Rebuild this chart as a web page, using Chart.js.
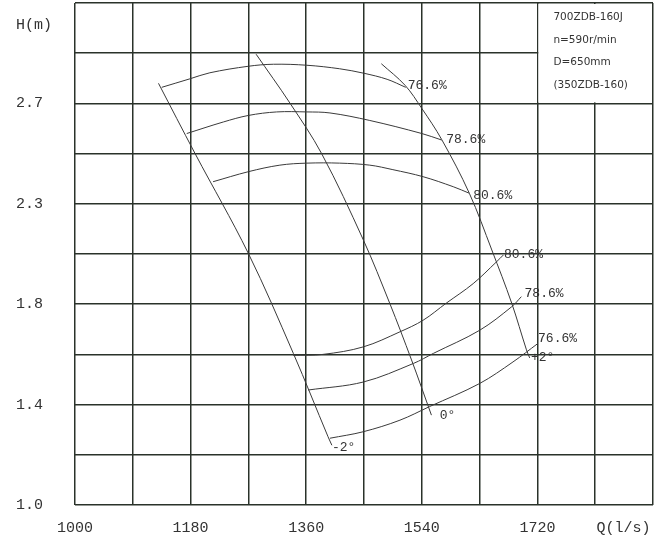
<!DOCTYPE html>
<html><head><meta charset="utf-8">
<script src="https://cdn.jsdelivr.net/npm/chart.js@4"></script>
<style>html,body{margin:0;padding:0;background:#fff}</style>
</head><body>
<canvas id="c" width="671" height="541"></canvas>
<script>
// ---------- data ----------
// Flow axis Q (l/s)
const qMin = 1000, qMax = 1900, qStep = 90;
const qLabelled = [1000, 1180, 1360, 1540, 1720];
const qUnitLabel = 'Q(l/s)';
const qUnitAt = 1854;
// Head axis: 10 grid rows, labelled rows
const hRowsMax = 10;
const hLabelRows = [0, 2, 4, 6, 8];
const hLabels = ['1.0', '1.4', '1.8', '2.3', '2.7'];
const hUnitLabel = 'H(m)';
const hUnitAt = 9.56;

// blade-angle H-Q lines (Q, grid row)
const angleM2Q = [1130, 1187, 1270, 1340, 1394, 1400];
const angleM2H = [8.40, 7.00, 5.01, 3.02, 1.36, 1.19];
const angle0Q  = [1282, 1335, 1384, 1449, 1490, 1524, 1555];
const angle0H  = [8.98, 8.00, 7.00, 5.28, 4.02, 2.89, 1.79];
const angleP2Q = [1477, 1514, 1540, 1571, 1614, 1649, 1680, 1703, 1708];
const angleP2H = [8.79, 8.36, 7.90, 7.28, 6.21, 5.08, 4.02, 3.09, 2.93];

// upper efficiency arcs
const effUp766Q = [1135, 1179, 1210, 1270, 1309, 1361, 1412, 1450, 1486, 1515];
const effUp766H = [8.32, 8.49, 8.61, 8.74, 8.78, 8.76, 8.69, 8.60, 8.48, 8.32];
const effUp786Q = [1174, 1231, 1270, 1314, 1361, 1397, 1459, 1540, 1571];
const effUp786H = [7.40, 7.63, 7.76, 7.83, 7.83, 7.81, 7.66, 7.40, 7.27];
const effUp806Q = [1215, 1270, 1319, 1361, 1412, 1459, 1495, 1542, 1589, 1614];
const effUp806H = [6.44, 6.64, 6.77, 6.81, 6.81, 6.77, 6.68, 6.54, 6.34, 6.21];

// lower efficiency curves
const effLo806Q = [1340, 1386, 1449, 1506, 1542, 1578, 1620, 1656, 1667];
const effLo806H = [2.98, 3.00, 3.15, 3.45, 3.68, 4.02, 4.41, 4.84, 4.98];
const effLo786Q = [1363, 1449, 1527, 1558, 1630, 1680, 1695];
const effLo786H = [2.29, 2.45, 2.82, 3.02, 3.48, 3.95, 4.15];
const effLo766Q = [1397, 1449, 1506, 1552, 1630, 1682, 1721];
const effLo766H = [1.33, 1.46, 1.69, 1.96, 2.42, 2.85, 3.22];

// curve labels
const curveLabelText = ['76.6%', '78.6%', '80.6%', '80.6%', '78.6%', '76.6%', '-2°', '0°', '+2°'];
const curveLabelQ    = [1518, 1578, 1620, 1668, 1700, 1721, 1400, 1568, 1710];
const curveLabelH    = [8.36, 7.27, 6.17, 4.98, 4.22, 3.32, 1.15, 1.79, 2.93];

// info box
const boxQ = [1720, 1900];
const boxRows = [8, 10];
const boxLines = ['700ZDB-160J', 'n=590r/min', 'D=650mm', '(350ZDB-160)'];

// ---------- chart ----------
const lineColor = '#3a3a3a';
const gridColor = '#2a322a';
const monoFont = '"Liberation Mono", "DejaVu Sans Mono", monospace';

function mk(q, h) { return q.map((v, i) => ({x: v, y: h[i]})); }
const curves = [
  [angleM2Q, angleM2H], [angle0Q, angle0H], [angleP2Q, angleP2H],
  [effUp766Q, effUp766H], [effUp786Q, effUp786H], [effUp806Q, effUp806H],
  [effLo806Q, effLo806H], [effLo786Q, effLo786H], [effLo766Q, effLo766H]
];
const datasets = curves.map(c => ({
  data: mk(c[0], c[1]),
  borderColor: lineColor,
  borderWidth: 1,
  pointRadius: 0,
  fill: false,
  tension: 0.35
}));

const qGrid = [];
for (let v = qMin; v <= qMax; v += qStep) qGrid.push(v);
const hGrid = [];
for (let r = 0; r <= hRowsMax; r++) hGrid.push(r);

const isGridQ = v => qGrid.includes(v);
const isGridH = v => hGrid.includes(v);

const overlay = {
  id: 'overlay',
  beforeDatasetsDraw(chart) {
    const ctx = chart.ctx, xs = chart.scales.x, ys = chart.scales.y;
    const x0 = xs.getPixelForValue(boxQ[0]), x1 = xs.getPixelForValue(boxQ[1]);
    const y0 = ys.getPixelForValue(boxRows[1]), y1 = ys.getPixelForValue(boxRows[0]);
    ctx.save();
    ctx.fillStyle = '#fff';
    ctx.fillRect(x0 + 1, y0 + 1, x1 - x0 - 2, y1 - y0 - 2);
    ctx.fillStyle = '#333';
    ctx.font = '10.5px "DejaVu Sans", sans-serif';
    ctx.textAlign = 'left';
    ctx.textBaseline = 'middle';
    const step = (y1 - y0) / 4.45;
    boxLines.forEach((t, i) => ctx.fillText(t, x0 + 16, y0 + 14.6 + i * step));
    ctx.restore();
  },
  afterDatasetsDraw(chart) {
    const ctx = chart.ctx, xs = chart.scales.x, ys = chart.scales.y;
    ctx.save();
    ctx.fillStyle = '#333';
    ctx.font = '13px ' + monoFont;
    ctx.textAlign = 'left';
    ctx.textBaseline = 'middle';
    curveLabelText.forEach((t, i) => {
      ctx.fillText(t, xs.getPixelForValue(curveLabelQ[i]), ys.getPixelForValue(curveLabelH[i]));
    });
    ctx.restore();
  }
};

new Chart(document.getElementById('c'), {
  type: 'line',
  data: { datasets },
  plugins: [overlay],
  options: {
    responsive: false,
    animation: false,
    events: [],
    layout: { padding: { left: 16, top: 3, right: 18, bottom: 0 } },
    plugins: { legend: { display: false }, tooltip: { enabled: false }, title: { display: false } },
    scales: {
      x: {
        type: 'linear', min: qMin, max: qMax,
        afterBuildTicks: s => { s.ticks = qGrid.concat([qUnitAt]).sort((a, b) => a - b).map(v => ({value: v})); },
        afterFit: s => { s.height = 36; },
        ticks: {
          autoSkip: false, maxRotation: 0, padding: 14, color: '#333',
          font: { family: monoFont, size: 15 },
          callback: v => v === qUnitAt ? qUnitLabel : (qLabelled.includes(v) ? String(v) : '')
        },
        grid: {
          drawTicks: false, lineWidth: 1.5,
          color: c => (c.tick && isGridQ(c.tick.value)) ? gridColor : 'rgba(0,0,0,0)'
        },
        border: { display: false }
      },
      y: {
        type: 'linear', min: 0, max: hRowsMax,
        afterBuildTicks: s => { s.ticks = hGrid.concat([hUnitAt]).sort((a, b) => a - b).map(v => ({value: v})); },
        afterFit: s => { s.width = 59; s.paddingTop = 0; s.paddingBottom = 0; },
        ticks: {
          autoSkip: false, padding: 0, color: '#333', crossAlign: 'far',
          font: { family: monoFont, size: 15 },
          callback: v => {
            if (v === hUnitAt) return hUnitLabel;
            const k = hLabelRows.indexOf(v);
            return k >= 0 ? hLabels[k] : '';
          }
        },
        grid: {
          drawTicks: false, lineWidth: 1.5,
          color: c => (c.tick && isGridH(c.tick.value)) ? gridColor : 'rgba(0,0,0,0)'
        },
        border: { display: false }
      }
    }
  }
});
</script>
</body></html>
